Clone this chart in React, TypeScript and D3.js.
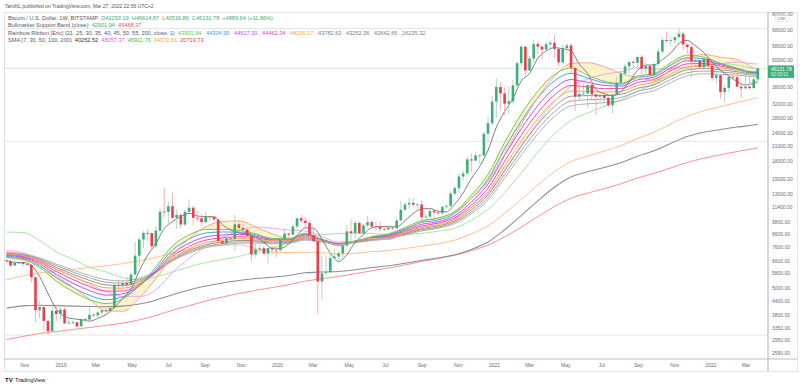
import React, { useEffect, useRef } from "react";
import * as d3 from "d3";

// BTC/USD weekly (Bitstamp). Last candle is the week of 2022-03-21.
const lastWeek = Date.UTC(2022, 2, 21);
const WEEK = 7 * 864e5;

// [open, high, low, close], first row = week of 2018-10-01
const candles = [
  [6620, 6690, 6500, 6590], [6590, 6700, 6150, 6300], [6300, 7000, 6280, 6470], [6470, 6580, 6400, 6480],
  [6480, 6500, 6270, 6390], [6390, 6580, 6300, 6340], [6340, 6400, 5300, 5590], [5590, 5620, 3560, 4010],
  [4010, 4400, 3690, 4140], [4140, 4200, 3300, 3600], [3600, 3620, 3122, 3240], [3240, 4250, 3220, 3990],
  [3990, 4240, 3600, 3860], [3860, 4100, 3650, 4040], [4040, 4120, 3490, 3510], [3510, 3750, 3480, 3540],
  [3540, 3620, 3470, 3550], [3550, 3560, 3350, 3410], [3410, 3680, 3380, 3660], [3660, 3710, 3560, 3650],
  [3650, 4200, 3620, 3830], [3830, 3900, 3760, 3810], [3810, 3960, 3670, 3920], [3920, 4040, 3810, 4000],
  [4000, 4090, 3900, 3980], [3980, 4130, 3900, 4100], [4100, 5300, 4090, 5180], [5180, 5450, 4900, 5160],
  [5160, 5400, 5020, 5280], [5280, 5650, 4970, 5180], [5180, 5900, 5150, 5750], [5750, 8000, 5700, 6960],
  [6960, 8380, 6180, 8200], [8200, 8950, 7500, 8750], [8750, 9090, 8080, 8730], [8730, 8800, 7450, 7650],
  [7650, 9370, 7510, 8960], [8960, 11200, 8900, 10850], [10850, 13880, 10300, 10820], [10820, 12000, 9620, 11470],
  [11470, 13150, 10100, 10200], [10200, 11100, 9100, 10500], [10500, 10700, 9150, 9530], [9530, 11100, 9410, 10830],
  [10830, 12300, 10800, 11300], [11300, 11550, 9470, 10200], [10200, 10950, 9800, 10150], [10150, 10630, 9320, 9760],
  [9760, 10900, 9650, 10380], [10380, 10450, 9900, 10300], [10300, 10360, 9870, 10030], [10030, 10050, 7710, 8060],
  [8060, 8530, 7760, 7860], [7860, 8830, 7780, 8290], [8290, 8410, 7900, 8230], [8230, 10500, 7300, 9550],
  [9550, 9950, 9000, 9200], [9200, 9500, 8700, 9050], [9050, 9100, 8350, 8500], [8500, 8520, 6550, 7050],
  [7050, 7850, 6850, 7420], [7420, 7750, 7150, 7500], [7500, 7700, 7050, 7100], [7100, 7520, 6440, 7500],
  [7500, 7700, 7060, 7400], [7400, 7550, 6850, 7350], [7350, 8450, 7330, 8190], [8190, 9200, 8100, 8700],
  [8700, 8800, 8250, 8600], [8600, 9550, 8550, 9350], [9350, 10160, 9150, 10150], [10150, 10500, 9700, 9900],
  [9900, 10250, 9300, 9680], [9680, 9960, 8420, 8550], [8550, 9200, 7990, 8050], [8050, 8180, 3850, 5360],
  [5360, 6900, 4450, 5830], [5830, 6980, 5680, 5880], [5880, 7200, 5850, 6780], [6780, 7470, 6750, 6900],
  [6900, 7300, 6500, 7120], [7120, 7750, 6780, 7700], [7700, 9460, 7650, 8900], [8900, 10070, 8100, 8730],
  [8730, 9950, 8200, 9680], [9680, 9900, 8650, 8720], [8720, 9600, 8630, 9450], [9450, 10380, 9280, 9760],
  [9760, 9990, 9200, 9340], [9340, 9800, 8950, 9300], [9300, 9790, 8850, 9120], [9120, 9300, 8950, 9080],
  [9080, 9450, 9050, 9250], [9250, 9350, 9000, 9170], [9170, 10200, 9150, 9930], [9930, 12100, 9900, 11070],
  [11070, 12000, 10900, 11670], [11670, 12480, 11150, 11860], [11860, 12470, 11400, 11650], [11650, 11800, 11100, 11680],
  [11680, 12090, 9880, 10250], [10250, 10650, 9850, 10330], [10330, 11180, 10220, 10930], [10930, 11050, 10140, 10770],
  [10770, 10960, 10400, 10670], [10670, 11500, 10550, 11400], [11400, 11740, 11220, 11500], [11500, 13350, 11380, 13030],
  [13030, 14100, 12800, 13760], [13760, 15960, 13230, 15480], [15480, 16490, 14850, 15960], [15960, 18950, 15800, 18400],
  [18400, 19500, 16200, 18180], [18180, 19920, 18000, 19150], [19150, 19420, 17600, 19150], [19150, 24300, 19000, 23850],
  [23850, 28400, 21900, 26500], [26500, 34800, 26000, 33000], [33000, 41950, 28000, 38200], [38200, 40100, 30400, 35800],
  [35800, 37900, 28800, 32300], [32300, 38500, 29300, 33100], [33100, 41000, 32300, 38900], [38900, 49700, 37900, 48600],
  [48600, 58300, 47000, 57500], [57500, 57600, 43000, 45200], [45200, 52600, 44900, 51000], [51000, 61800, 49300, 59000],
  [59000, 60500, 53300, 57500], [57500, 58500, 50400, 55800], [55800, 60000, 55500, 58900], [58900, 61300, 55500, 59800],
  [59800, 64900, 51300, 56200], [56200, 57000, 47000, 49000], [49000, 58400, 47800, 56600], [56600, 59500, 53000, 58200],
  [58200, 59600, 43800, 46400], [46400, 46700, 30000, 34700], [34700, 40900, 33400, 35600], [35600, 39400, 34800, 35800],
  [35800, 39500, 31000, 39000], [39000, 41300, 33300, 35500], [35500, 35800, 28800, 34700], [34700, 36600, 32700, 35300],
  [35300, 35400, 32100, 34240], [34240, 34700, 31100, 31800], [31800, 35500, 29300, 35400], [35400, 42600, 35200, 39900],
  [39900, 45300, 37500, 43800], [43800, 48100, 42800, 47100], [47100, 49400, 43900, 49300], [49300, 50500, 46300, 48800],
  [48800, 51900, 46800, 51800], [51800, 52900, 42800, 46000], [46000, 48800, 43400, 47300], [47300, 48300, 39600, 43200],
  [43200, 49200, 40800, 48200], [48200, 56500, 46900, 54700], [54700, 62900, 53800, 61500], [61500, 67000, 59700, 60900],
  [60900, 63700, 57800, 61300], [61300, 63600, 59400, 63300], [63300, 69000, 62300, 65500], [65500, 66400, 55600, 58700],
  [58700, 59300, 53300, 57200], [57200, 59200, 42000, 49400], [49400, 51900, 47100, 50100], [50100, 50200, 45600, 46700],
  [46700, 52000, 45600, 50800], [50800, 52100, 45700, 47300], [47300, 47500, 40600, 41900], [41900, 44400, 39700, 43100],
  [43100, 43500, 34000, 36300], [36300, 38900, 32900, 37900], [37900, 42600, 36300, 42400], [42400, 45800, 41700, 42200],
  [42200, 44700, 38000, 38400], [38400, 39500, 34300, 37700], [37700, 45400, 37600, 38400], [38400, 42600, 37100, 37800],
  [37800, 42400, 37600, 41293], [41293.19, 46614.87, 40516.86, 46131.78],
];

// indicator values in thousand USD, read every 4th week (0, 4 ... 180) plus the last week (181)
const maWeeks = [...d3.range(0, 181, 4), 181];
const ema21 = [6.85, 6.71, 6.17, 5.38, 4.84, 4.46, 4.29, 4.49, 5.14, 6.21, 7.68, 8.58, 9.07, 9.07, 8.99, 8.68, 8.27, 8.25, 8.73, 8.17, 7.69, 8.03, 8.44, 8.68, 9.24, 9.91, 10.16, 10.87, 12.82, 15.78, 21.82, 29.02, 36.68, 43.34, 46.26, 43.09, 40.51, 39.63, 42.68, 43.79, 48.8, 52.72, 51.62, 48.62, 45.96, 43.69, 43.9];
const ema25 = [6.9, 6.77, 6.29, 5.57, 5.05, 4.66, 4.46, 4.59, 5.12, 6.05, 7.36, 8.23, 8.75, 8.84, 8.83, 8.61, 8.27, 8.25, 8.67, 8.2, 7.78, 8.05, 8.4, 8.61, 9.12, 9.73, 9.99, 10.66, 12.4, 15.07, 20.49, 27.07, 34.23, 40.65, 43.91, 41.82, 39.94, 39.33, 42.05, 43.18, 47.68, 51.38, 50.8, 48.43, 46.18, 44.16, 44.3];
const ema30 = [6.96, 6.83, 6.41, 5.77, 5.27, 4.89, 4.67, 4.73, 5.15, 5.94, 7.09, 7.89, 8.41, 8.57, 8.63, 8.48, 8.22, 8.22, 8.58, 8.2, 7.84, 8.06, 8.35, 8.55, 9.0, 9.55, 9.81, 10.42, 11.97, 14.35, 19.14, 25.08, 31.66, 37.75, 41.21, 40.06, 38.86, 38.6, 41.09, 42.28, 46.33, 49.81, 49.68, 47.92, 46.12, 44.41, 44.52];
const ema35 = [7.01, 6.89, 6.51, 5.93, 5.47, 5.09, 4.86, 4.87, 5.21, 5.88, 6.9, 7.64, 8.14, 8.33, 8.43, 8.34, 8.15, 8.16, 8.49, 8.18, 7.87, 8.05, 8.31, 8.49, 8.89, 9.39, 9.66, 10.22, 11.61, 13.76, 18.06, 23.46, 29.52, 35.27, 38.79, 38.28, 37.6, 37.63, 40.0, 41.26, 45.0, 48.3, 48.5, 47.2, 45.78, 44.36, 44.46];
const ema40 = [7.06, 6.94, 6.59, 6.06, 5.63, 5.27, 5.03, 5.01, 5.28, 5.87, 6.77, 7.45, 7.93, 8.14, 8.26, 8.22, 8.07, 8.09, 8.4, 8.13, 7.87, 8.03, 8.26, 8.43, 8.8, 9.26, 9.52, 10.04, 11.3, 13.27, 17.17, 22.12, 27.75, 33.16, 36.67, 36.6, 36.3, 36.56, 38.86, 40.18, 43.7, 46.86, 47.3, 46.36, 45.25, 44.09, 44.2];
const ema45 = [7.1, 6.99, 6.67, 6.18, 5.77, 5.42, 5.18, 5.14, 5.36, 5.88, 6.69, 7.32, 7.77, 7.98, 8.12, 8.1, 7.98, 8.02, 8.31, 8.09, 7.86, 8.0, 8.22, 8.38, 8.72, 9.15, 9.4, 9.89, 11.05, 12.86, 16.44, 21.02, 26.26, 31.38, 34.83, 35.07, 35.05, 35.49, 37.73, 39.11, 42.45, 45.5, 46.11, 45.47, 44.61, 43.66, 43.78];
const ema50 = [7.15, 7.04, 6.74, 6.29, 5.9, 5.57, 5.32, 5.27, 5.45, 5.91, 6.64, 7.21, 7.64, 7.85, 8.0, 8.0, 7.91, 7.95, 8.22, 8.03, 7.83, 7.97, 8.17, 8.32, 8.63, 9.04, 9.28, 9.75, 10.82, 12.5, 15.8, 20.06, 24.96, 29.8, 33.17, 33.63, 33.82, 34.4, 36.6, 38.02, 41.21, 44.17, 44.92, 44.51, 43.88, 43.12, 43.25];
const ema55 = [7.2, 7.09, 6.81, 6.39, 6.02, 5.7, 5.46, 5.39, 5.54, 5.94, 6.6, 7.14, 7.54, 7.74, 7.89, 7.91, 7.83, 7.88, 8.14, 7.98, 7.8, 7.93, 8.12, 8.26, 8.56, 8.94, 9.17, 9.61, 10.61, 12.17, 15.23, 19.19, 23.77, 28.35, 31.62, 32.25, 32.61, 33.3, 35.46, 36.9, 39.97, 42.83, 43.7, 43.49, 43.05, 42.48, 42.64];
const ema200 = [4.1, 4.19, 4.22, 4.2, 4.18, 4.16, 4.15, 4.18, 4.27, 4.44, 4.69, 4.92, 5.12, 5.28, 5.42, 5.52, 5.59, 5.69, 5.85, 5.9, 5.93, 6.04, 6.17, 6.28, 6.45, 6.64, 6.8, 7.02, 7.41, 7.99, 9.04, 10.43, 12.11, 13.89, 15.41, 16.23, 16.96, 17.78, 19.01, 20.07, 21.62, 23.17, 24.2, 24.9, 25.5, 26.02, 26.22];
const sma20 = [6.83, 6.66, 6.39, 5.67, 5.07, 4.48, 3.98, 3.97, 4.54, 5.51, 6.95, 8.27, 9.31, 9.82, 9.88, 9.31, 8.68, 8.29, 8.44, 8.06, 7.79, 8.07, 8.29, 8.18, 8.88, 9.82, 10.2, 10.82, 12.38, 14.73, 19.42, 26.19, 34.34, 42.47, 48.55, 48.84, 46.92, 43.83, 42.15, 40.87, 45.54, 50.79, 53.09, 51.67, 50.48, 46.32, 45.46];
const sma30 = [7.33, 7.17, 6.64, 6.07, 5.67, 5.2, 4.84, 4.61, 4.61, 4.92, 5.87, 6.76, 7.64, 8.34, 8.94, 9.29, 9.19, 9.01, 8.92, 8.43, 7.97, 8.06, 8.09, 8.34, 8.72, 9.01, 9.23, 10.09, 11.34, 13.07, 16.47, 21.15, 26.7, 32.95, 38.48, 41.38, 43.54, 44.52, 46.41, 45.83, 46.07, 46.84, 47.57, 48.36, 49.17, 48.34, 48.25];
const sma50 = [8.83, 8.79, 8.11, 7.24, 6.72, 6.19, 5.9, 5.57, 5.46, 5.61, 5.9, 6.21, 6.49, 6.69, 6.9, 7.24, 7.53, 7.9, 8.38, 8.59, 8.69, 8.74, 8.72, 8.62, 8.61, 8.71, 8.91, 9.18, 9.96, 11.12, 13.17, 16.01, 19.79, 23.79, 27.26, 29.42, 31.46, 33.55, 36.63, 39.44, 43.04, 46.44, 47.95, 48.52, 47.69, 46.17, 45.91];
const sma100 = [5.45, 5.67, 5.84, 5.96, 6.07, 6.17, 6.28, 6.42, 6.6, 6.84, 7.15, 7.4, 7.64, 7.75, 7.76, 7.47, 7.23, 7.18, 7.2, 7.16, 7.07, 7.13, 7.25, 7.33, 7.48, 7.67, 7.84, 8.14, 8.67, 9.41, 10.66, 12.28, 14.21, 16.26, 18.02, 19.04, 20.01, 21.12, 22.72, 24.22, 26.28, 28.43, 30.07, 31.37, 32.7, 33.99, 34.37];
const sma200 = [2.98, 3.08, 3.17, 3.23, 3.3, 3.37, 3.44, 3.52, 3.64, 3.8, 4.01, 4.2, 4.4, 4.58, 4.75, 4.9, 5.04, 5.19, 5.38, 5.51, 5.64, 5.8, 5.97, 6.14, 6.34, 6.56, 6.76, 6.99, 7.31, 7.74, 8.41, 9.28, 10.32, 11.43, 12.43, 13.09, 13.7, 14.38, 15.24, 15.99, 16.88, 17.83, 18.63, 19.28, 19.93, 20.53, 20.72];

// SMA 7, read every 2nd week plus the last week
const sma7Weeks = [...d3.range(0, 181, 2), 181];
const sma7 = [6.66, 6.49, 6.5, 6.31, 5.63, 4.76, 4.06, 3.77, 3.68, 3.65, 3.59, 3.69, 3.84, 4.12, 4.52, 4.95, 5.96, 6.98, 7.86, 9.14, 9.81, 10.33, 10.66, 10.39, 10.31, 10.3, 9.51, 9.02, 8.75, 8.67, 8.43, 7.97, 7.5, 7.49, 7.83, 8.53, 9.22, 9.18, 8.22, 7.16, 6.56, 7.02, 7.97, 8.61, 9.23, 9.34, 9.33, 9.31, 9.9, 10.66, 11.16, 11.2, 10.9, 10.84, 11.72, 13.11, 15.19, 17.15, 20.17, 25.43, 29.83, 33.97, 40.63, 43.8, 51.1, 54.99, 56.89, 56.26, 55.01, 48.1, 43.76, 37.39, 35.73, 35.13, 36.45, 40.22, 45.16, 47.73, 47.8, 50.39, 53.87, 59.34, 61.2, 57.93, 54.06, 49.06, 45.17, 42.81, 40.31, 39.04, 39.74, 40.28];

const priceTicks = [80000, 68000, 58000, 50000, 38000, 32000, 28000, 24000, 21000, 18000, 15000, 13000, 11400, 9800, 8600, 7600, 6600, 5800, 5000, 4400, 3800, 3350, 2950, 2590];
const levels = [69000, 22100, 3122];

const FONT = "'Liberation Sans', Arial, sans-serif";

export default function App() {
  const ref = useRef<SVGSVGElement>(null);

  useEffect(() => {
    const svg = d3.select(ref.current);
    svg.selectAll("*").remove();

    const left = 4, right = 768, top = 12, bottom = 359, outerR = 797, outerB = 371;
    const x = d3.scaleUtc()
      .domain([new Date(Date.UTC(2019, 0, 1)), new Date(Date.UTC(2022, 0, 1))])
      .range([61, 711]);
    const y = d3.scaleLog().domain([2590, 68000]).range([353.5, 30]);
    const weekDate = (i: number) => new Date(lastWeek - (181 - i) * WEEK);
    const n = candles.length;
    const candleDate = (i: number) => new Date(lastWeek - (n - 1 - i) * WEEK);

    svg.append("rect").attr("width", 800).attr("height", 387).attr("fill", "#fff");

    svg.append("text").attr("x", 5).attr("y", 7.8)
      .attr("font-family", FONT).attr("font-size", 5).attr("fill", "#555")
      .text("TaroNL published on TradingView.com, Mar 27, 2022 22:56 UTC+2");

    // frame
    svg.append("rect").attr("x", left + 0.5).attr("y", top + 0.5)
      .attr("width", outerR - left).attr("height", outerB - top)
      .attr("fill", "none").attr("stroke", "#e0e3eb");

    svg.append("defs").append("clipPath").attr("id", "plotclip")
      .append("rect").attr("x", left).attr("y", top).attr("width", right - left).attr("height", bottom - top);
    const plot = svg.append("g").attr("clip-path", "url(#plotclip)");

    // horizontal levels drawn by the author
    levels.forEach((v) => {
      plot.append("line").attr("x1", left).attr("x2", right)
        .attr("y1", y(v)).attr("y2", y(v)).attr("stroke", "#e4e4e4").attr("stroke-width", 1);
    });

    // current price line
    const last = candles[n - 1][3];
    plot.append("line").attr("x1", left).attr("x2", right)
      .attr("y1", y(last)).attr("y2", y(last))
      .attr("stroke", "#3fad76").attr("stroke-opacity", 0.25).attr("stroke-width", 1);

    // bull market support band fill
    const idx = d3.range(maWeeks.length);
    const band = d3.area<number>()
      .x((i) => x(weekDate(maWeeks[i])))
      .y0((i) => y(ema21[i] * 1000))
      .y1((i) => y(sma20[i] * 1000))
      .curve(d3.curveMonotoneX);
    plot.append("path").datum(idx).attr("d", band)
      .attr("fill", "#fdeebc").attr("fill-opacity", 0.75);

    const series = [
      { v: sma200, c: "#ff8f8f", w: 1 },
      { v: sma100, c: "#ffc08f", w: 1 },
      { v: ema200, c: "#8e8e8e", w: 1.05 },
      { v: sma50, c: "#a3e8a0", w: 1 },
      { v: sma30, c: "#f3a6f0", w: 1 },
      { v: ema55, c: "#b3b3b3", w: 1 },
      { v: ema50, c: "#a5a5a5", w: 1 },
      { v: ema45, c: "#979797", w: 1 },
      { v: ema40, c: "#ffa632", w: 1 },
      { v: ema35, c: "#ff45a8", w: 1 },
      { v: ema30, c: "#c24cf2", w: 1 },
      { v: ema25, c: "#3aa6ee", w: 1 },
      { v: sma20, c: "#f6a88e", w: 1 },
      { v: ema21, c: "#7cc843", w: 1 },
    ];
    series.forEach((s) => {
      const line = d3.line<number>()
        .x((i) => x(weekDate(maWeeks[i])))
        .y((i) => y(s.v[i] * 1000))
        .curve(d3.curveMonotoneX);
      plot.append("path").datum(idx).attr("d", line)
        .attr("fill", "none").attr("stroke", s.c).attr("stroke-width", s.w);
    });

    const sma7Line = d3.line<number>()
      .x((i) => x(weekDate(sma7Weeks[i])))
      .y((i) => y(sma7[i] * 1000))
      .curve(d3.curveMonotoneX);
    plot.append("path").datum(d3.range(sma7Weeks.length)).attr("d", sma7Line)
      .attr("fill", "none").attr("stroke", "#707070").attr("stroke-width", 0.9);

    // candles
    const up = "#3fad76", down = "#e63e4c";
    const bw = 2.6;
    const g = plot.append("g");
    candles.forEach((c, i) => {
      const [o, h, l, cl] = c;
      const cx = x(candleDate(i));
      const isUp = cl >= o;
      g.append("line").attr("x1", cx).attr("x2", cx).attr("y1", y(h)).attr("y2", y(l))
        .attr("stroke", isUp ? "#a6cfc6" : "#f2aab0").attr("stroke-width", 0.9);
      const y0 = y(Math.max(o, cl)), y1 = y(Math.min(o, cl));
      g.append("rect").attr("x", cx - bw / 2).attr("y", y0)
        .attr("width", bw).attr("height", Math.max(0.8, y1 - y0))
        .attr("fill", isUp ? up : down);
    });

    // axes lines
    svg.append("line").attr("x1", right).attr("x2", right).attr("y1", top).attr("y2", outerB)
      .attr("stroke", "#b8bcc6").attr("stroke-width", 1.2);
    svg.append("line").attr("x1", left).attr("x2", outerR).attr("y1", bottom).attr("y2", bottom)
      .attr("stroke", "#b8bcc6").attr("stroke-width", 1.2);

    // price labels
    const yLast = y(last);
    priceTicks.forEach((p) => {
      svg.append("text").attr("x", 772).attr("y", y(p) + 1.8)
        .attr("font-family", FONT).attr("font-size", 5).attr("fill", "#6a6d78")
        .text(d3.format(".2f")(p));
    });
    svg.append("rect").attr("x", 775).attr("y", 15.6).attr("width", 14).attr("height", 6).attr("rx", 1)
      .attr("fill", "#fff").attr("stroke", "#c9ccd4").attr("stroke-width", 0.5);
    svg.append("text").attr("x", 782).attr("y", 20).attr("text-anchor", "middle")
      .attr("font-family", FONT).attr("font-size", 4).attr("fill", "#6a6d78").text("USD");

    svg.append("rect").attr("x", 768).attr("y", yLast - 3).attr("width", 26).attr("height", 12.5)
      .attr("fill", up);
    svg.append("text").attr("x", 771).attr("y", yLast + 2.6)
      .attr("font-family", FONT).attr("font-size", 5).attr("fill", "#fff").text(d3.format(".2f")(last));
    svg.append("text").attr("x", 771).attr("y", yLast + 7.6)
      .attr("font-family", FONT).attr("font-size", 4.5).attr("fill", "#e4f5ec").text("02:03:01");

    // time labels
    const months = d3.utcMonth.every(2)!.range(new Date(Date.UTC(2018, 9, 15)), new Date(Date.UTC(2022, 3, 1)));
    months.forEach((m) => {
      svg.append("text").attr("x", x(m)).attr("y", 366.5).attr("text-anchor", "middle")
        .attr("font-family", FONT).attr("font-size", 5).attr("fill", "#6a6d78")
        .text(m.getUTCMonth() === 0 ? String(m.getUTCFullYear()) : d3.utcFormat("%b")(m));
    });

    // legend
    const legend = (yy: number, parts: [string, string][]) => {
      const t = svg.append("text").attr("x", 8).attr("y", yy)
        .attr("font-family", FONT).attr("font-size", 5.6).attr("xml:space", "preserve");
      parts.forEach(([s, col]) => t.append("tspan").attr("fill", col).text(s));
    };
    const grey = "#555a66";
    legend(19.5, [
      ["Bitcoin / U.S. Dollar, 1W, BITSTAMP  ", grey],
      ["O41293.19  H46614.87  L40516.86  C46131.78  +4889.64 (+11.86%)", up],
    ]);
    legend(27, [
      ["Bullmarket Support Band (close)  ", grey],
      ["42901.94  ", "#4caf50"],
      ["45468.37", "#f25656"],
    ]);
    legend(34.8, [
      ["Rainbow Ribbon [Eric] (21, 25, 30, 35, 40, 45, 50, 55, 200, close, 1)  ", grey],
      ["43901.94   ", "#6cc63a"],
      ["44304.95   ", "#2ea5ee"],
      ["44517.20   ", "#b94af0"],
      ["44462.34   ", "#f23fae"],
      ["44200.17   ", "#ff9f1c"],
      ["43782.63   43252.26   42642.65   26225.32", "#7a7d86"],
    ]);
    legend(42, [
      ["SMA (7, 30, 50, 100, 200)  ", grey],
      ["40252.52  ", "#333"],
      ["48257.37  ", "#ee4fe6"],
      ["45911.76  ", "#3cc43c"],
      ["34372.61  ", "#ff9a30"],
      ["20719.73", "#f03c3c"],
    ]);

    // watermark
    svg.append("text").attr("x", 5).attr("y", 381.5)
      .attr("font-family", FONT).attr("font-size", 6).attr("font-weight", 900).attr("fill", "#131722").text("TV");
    svg.append("text").attr("x", 15).attr("y", 381.5)
      .attr("font-family", FONT).attr("font-size", 5.5).attr("fill", "#131722").text("TradingView");
  }, []);

  return (
    <svg ref={ref} width={800} height={387}
      style={{ position: "absolute", left: 0, top: 0, display: "block" }} />
  );
}
